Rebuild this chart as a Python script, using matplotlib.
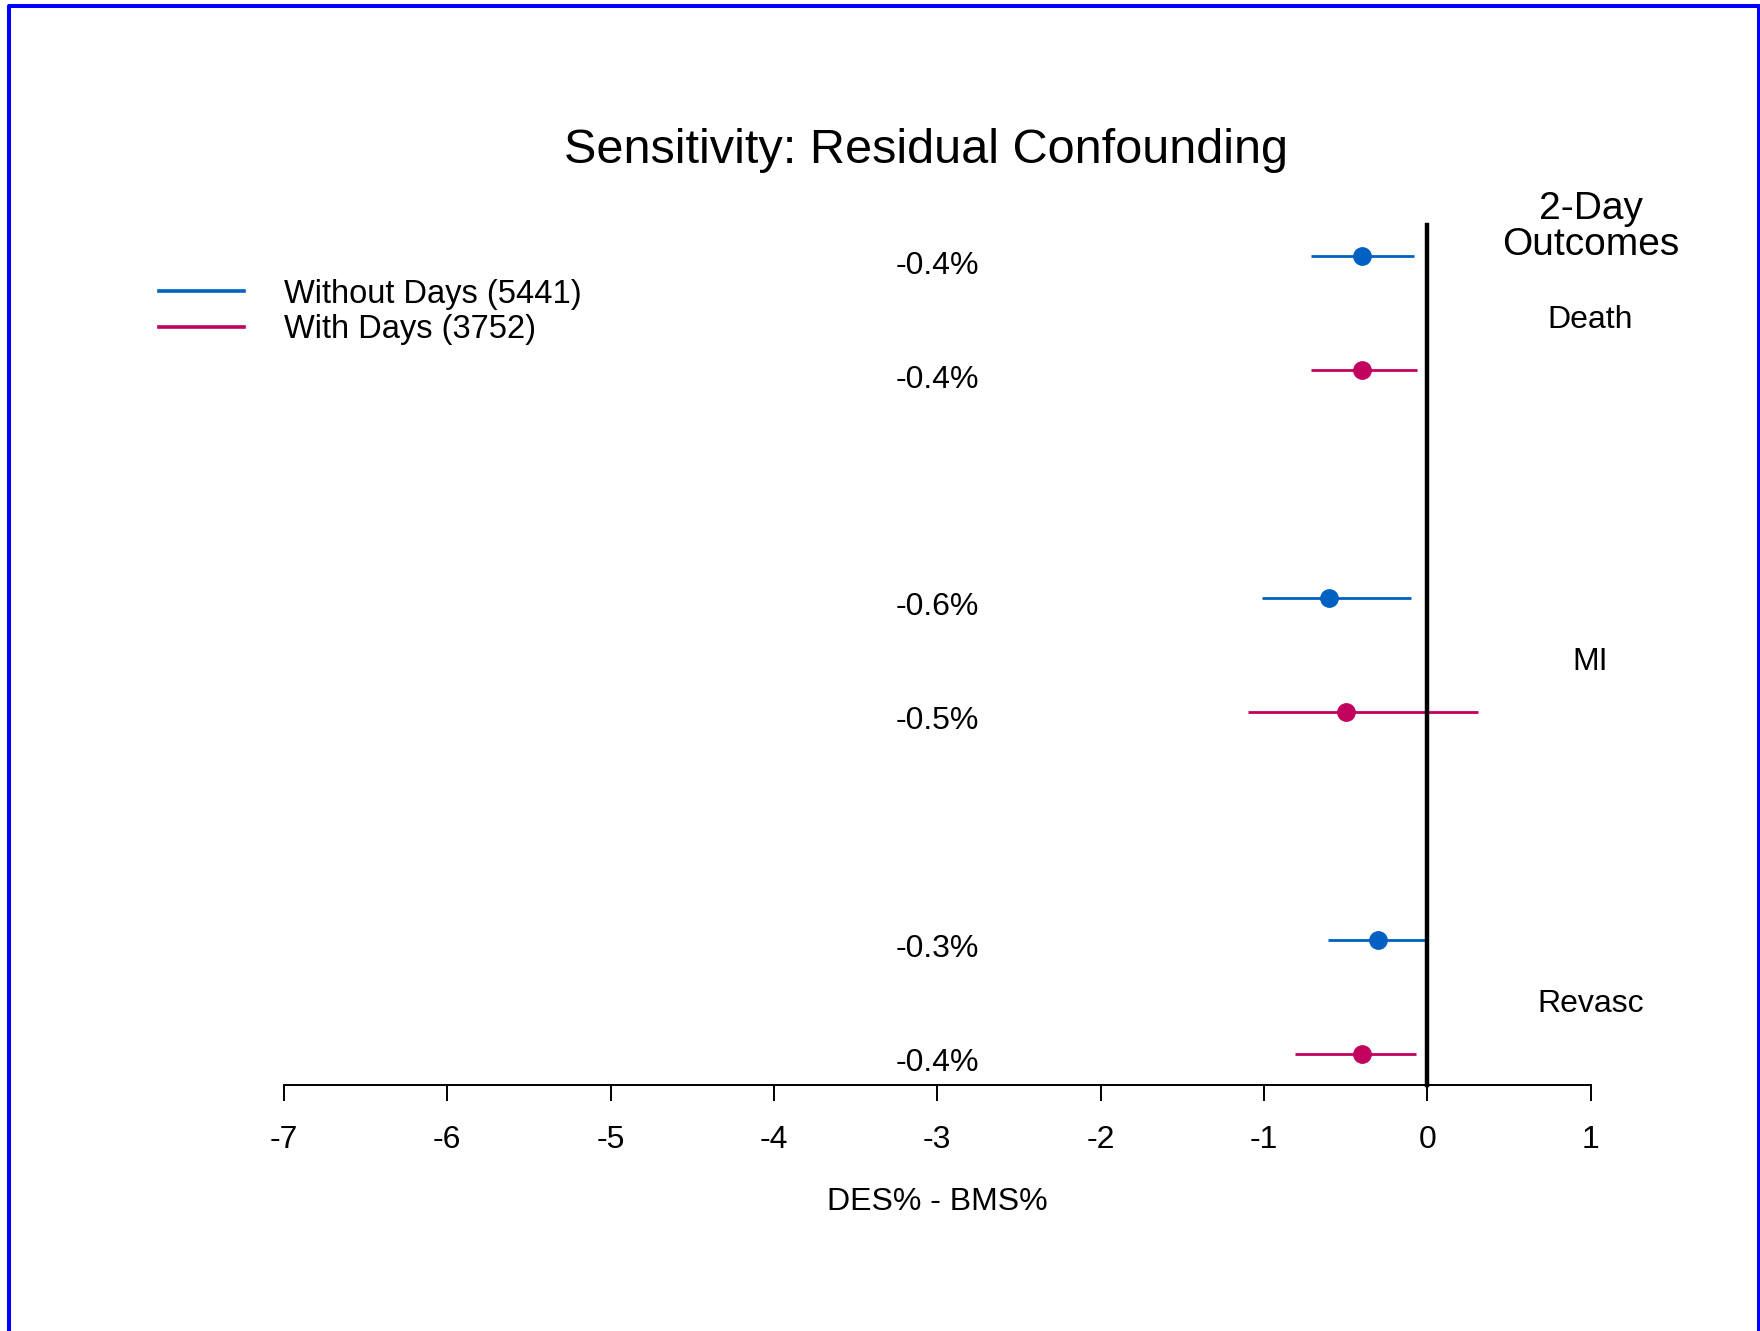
import matplotlib
matplotlib.use("Agg")
import matplotlib.pyplot as plt
from matplotlib.lines import Line2D

plt.rcParams['font.family'] = ['Liberation Sans', 'DejaVu Sans']

# gruppi di esiti e serie
outcomes = ["Death", "MI", "Revasc"]
series = ["Without Days (5441)", "With Days (3752)"]
colors = ["#0061c2", "#c2005e"]

# stime e intervalli (DES% - BMS%)
est_without = [-0.4, -0.6, -0.3]
lo_without = [-0.71, -1.01, -0.61]
hi_without = [-0.08, -0.10, -0.01]
est_with = [-0.4, -0.5, -0.4]
lo_with = [-0.71, -1.10, -0.81]
hi_with = [-0.065, 0.31, -0.07]
lab_without = ["-0.4%", "-0.6%", "-0.3%"]
lab_with = ["-0.4%", "-0.5%", "-0.4%"]

xticks = [-7, -6, -5, -4, -3, -2, -1, 0, 1]

# righe dall'alto: Death (8,7), MI (5,4), Revasc (2,1)
y_without = [8, 5, 2]
y_with = [7, 4, 1]

W, H = 1760, 1331
fig = plt.figure(figsize=(W / 100, H / 100), dpi=100)
ax = fig.add_axes([284 / W, 1 - 1085 / H, (1590.5 - 284) / W, (1085 - 224.5) / H])
ax.set_xlim(-7, 1)
ax.set_ylim(0.73, 8.28)

for est, lo, hi, ys, labs, col in [
    (est_without, lo_without, hi_without, y_without, lab_without, colors[0]),
    (est_with, lo_with, hi_with, y_with, lab_with, colors[1]),
]:
    for e, l, h, y, s in zip(est, lo, hi, ys, labs):
        ax.plot([l, h], [y, y], color=col, lw=2.0, solid_capstyle='butt', clip_on=False)
        ax.plot(e, y, 'o', color=col, ms=12.5, clip_on=False)
        ax.text(-3.0, y - 0.08, s, ha='center', va='center', fontsize=23)

ax.axvline(0, color='black', lw=3.2, clip_on=False)

for name, y in zip(outcomes, [7.5, 4.5, 1.5]):
    ax.text(1.0, y - 0.06, name, ha='center', va='center', fontsize=23, clip_on=False)
ax.text(1.0, 8.255, "2-Day\nOutcomes", ha='center', va='center', fontsize=28,
        linespacing=1.0, clip_on=False)

for sp in ['top', 'right', 'left']:
    ax.spines[sp].set_visible(False)
ax.spines['bottom'].set_linewidth(1.4)
ax.set_yticks([])
ax.set_xticks(xticks)
ax.set_xticklabels([str(t) for t in xticks])
ax.tick_params(axis='x', direction='out', length=11.5, width=1.4, pad=17.3, labelsize=23)
ax.text(-3.0, -0.1362, "DES% - BMS%", transform=ax.get_xaxis_transform(),
        ha='center', va='center', fontsize=23)

handles = [Line2D([], [], color=c, lw=2.6) for c in colors]
fig.legend(handles, series, loc='upper left', bbox_to_anchor=(159 / W, 1 - 278.7 / H),
           frameon=False, borderpad=0, borderaxespad=0, handlelength=2.6,
           handletextpad=1.22, labelspacing=0.14, fontsize=23.5)

fig.text(926 / W, 1 - 150.5 / H, "Sensitivity: Residual Confounding", ha='center',
         va='center', fontsize=35)

# cornice blu
fig.add_artist(Line2D([9 / W, 9 / W, 1758.5 / W, 1758.5 / W],
                      [-0.01, 1 - 6 / H, 1 - 6 / H, -0.01],
                      color='#0000ff', lw=2.9, transform=fig.transFigure))

fig.savefig("out.png", dpi=100)
